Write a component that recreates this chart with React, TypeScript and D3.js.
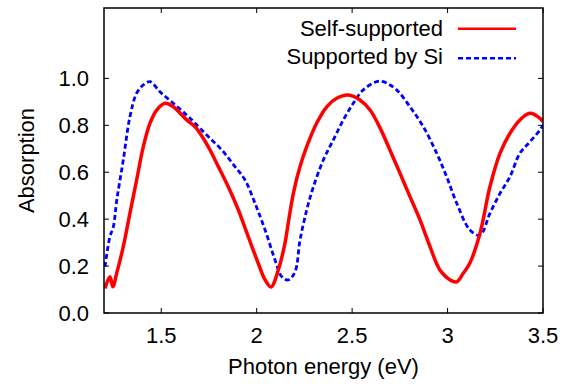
import React from "react";
import * as d3 from "d3";

const W = 571;
const H = 386;

const selfX = [1.205, 1.231, 1.246, 1.267, 1.301, 1.336, 1.371, 1.406, 1.441, 1.476, 1.52, 1.563, 1.633, 1.677, 1.703, 1.746, 1.799, 1.851, 1.904, 1.956, 2.008, 2.044, 2.075, 2.113, 2.148, 2.157, 2.192, 2.227, 2.262, 2.314, 2.367, 2.419, 2.48, 2.541, 2.594, 2.646, 2.698, 2.751, 2.803, 2.856, 2.908, 2.96, 3.013, 3.048, 3.082, 3.117, 3.17, 3.222, 3.275, 3.327, 3.379, 3.432, 3.484, 3.5];
const selfY = [0.105, 0.155, 0.112, 0.171, 0.283, 0.426, 0.567, 0.709, 0.809, 0.865, 0.894, 0.879, 0.823, 0.794, 0.766, 0.709, 0.624, 0.538, 0.439, 0.325, 0.212, 0.141, 0.111, 0.183, 0.297, 0.34, 0.51, 0.624, 0.709, 0.809, 0.879, 0.915, 0.929, 0.908, 0.865, 0.789, 0.695, 0.595, 0.496, 0.396, 0.283, 0.183, 0.141, 0.133, 0.169, 0.213, 0.34, 0.538, 0.681, 0.766, 0.823, 0.851, 0.83, 0.815];

const siX = [1.205, 1.231, 1.249, 1.267, 1.301, 1.336, 1.371, 1.406, 1.441, 1.493, 1.563, 1.633, 1.677, 1.746, 1.817, 1.886, 1.939, 1.991, 2.044, 2.096, 2.131, 2.166, 2.201, 2.227, 2.262, 2.297, 2.349, 2.401, 2.454, 2.506, 2.558, 2.629, 2.663, 2.733, 2.803, 2.873, 2.943, 2.995, 3.048, 3.117, 3.17, 3.222, 3.275, 3.327, 3.379, 3.432, 3.484, 3.5];
const siY = [0.197, 0.325, 0.368, 0.482, 0.652, 0.837, 0.937, 0.972, 0.986, 0.943, 0.894, 0.844, 0.809, 0.752, 0.695, 0.624, 0.567, 0.468, 0.354, 0.226, 0.155, 0.141, 0.176, 0.311, 0.439, 0.538, 0.652, 0.737, 0.823, 0.894, 0.951, 0.986, 0.986, 0.951, 0.879, 0.794, 0.681, 0.581, 0.468, 0.354, 0.332, 0.425, 0.51, 0.581, 0.681, 0.73, 0.78, 0.801];

const xTicks = [1.5, 2, 2.5, 3, 3.5];
const xTickLabels = ["1.5", "2", "2.5", "3", "3.5"];
const yTicks = [0, 0.2, 0.4, 0.6, 0.8, 1.0];
const yTickLabels = ["0.0", "0.2", "0.4", "0.6", "0.8", "1.0"];

const seriesNames = ["Self-supported", "Supported by Si"];

const M = { left: 104, right: 543, top: 8, bottom: 313 };
const FONT = "'Liberation Sans', Arial, Helvetica, sans-serif";

export default function App() {
  const x = d3.scaleLinear().domain([1.2, 3.5]).range([M.left, M.right]);
  const y = d3.scaleLinear().domain([0, 1.3]).range([M.bottom, M.top]);
  const line = d3
    .line<[number, number]>()
    .x((d) => x(d[0]))
    .y((d) => y(d[1]))
    .curve(d3.curveCatmullRom.alpha(0.5));
  const selfData: [number, number][] = selfX.map((v, i) => [v, selfY[i]]);
  const siData: [number, number][] = siX.map((v, i) => [v, siY[i]]);
  const tl = 5;
  const fs = 22;

  return (
    <svg width={W} height={H} style={{ position: "absolute", left: 0, top: 0 }} fontFamily={FONT}>
      <rect width={W} height={H} fill="#fff" />
      <defs>
        <clipPath id="plot">
          <rect x={M.left} y={M.top} width={M.right - M.left} height={M.bottom - M.top} />
        </clipPath>
      </defs>
      {xTicks.map((t) => (
        <g key={"xt" + t}>
          <line x1={x(t)} x2={x(t)} y1={M.bottom} y2={M.bottom - tl} stroke="#000" strokeWidth={1} />
          <line x1={x(t)} x2={x(t)} y1={M.top} y2={M.top + tl} stroke="#000" strokeWidth={1} />
        </g>
      ))}
      {yTicks.map((t) => (
        <g key={"yt" + t}>
          <line x1={M.left} x2={M.left + tl} y1={y(t)} y2={y(t)} stroke="#000" strokeWidth={1} />
          <line x1={M.right} x2={M.right - tl} y1={y(t)} y2={y(t)} stroke="#000" strokeWidth={1} />
        </g>
      ))}
      <g clipPath="url(#plot)">
        <path d={line(siData) || ""} fill="none" stroke="#0000ff" strokeWidth={2.8} strokeDasharray="5,3" />
        <path d={line(selfData) || ""} fill="none" stroke="#ff0000" strokeWidth={3.5} strokeLinejoin="round" />
      </g>
      <rect x={M.left} y={M.top} width={M.right - M.left} height={M.bottom - M.top} fill="none" stroke="#000" strokeWidth={1.5} />
      {xTicks.map((t, i) => (
        <text key={"xl" + t} x={x(t)} y={343} textAnchor="middle" fontSize={fs} fill="#000">
          {xTickLabels[i]}
        </text>
      ))}
      {yTicks.map((t, i) => (
        <text key={"yl" + t} x={89} y={y(t) + 7.5} textAnchor="end" fontSize={fs} fill="#000">
          {yTickLabels[i]}
        </text>
      ))}
      <text x={(M.left + M.right) / 2} y={374} textAnchor="middle" fontSize={fs} fill="#000">
        Photon energy (eV)
      </text>
      <text transform={`translate(33.5,${(M.top + M.bottom) / 2}) rotate(-90)`} textAnchor="middle" fontSize={fs} fill="#000">
        Absorption
      </text>
      <text x={443} y={36} textAnchor="end" fontSize={fs} fill="#000">{seriesNames[0]}</text>
      <line x1={458} x2={516} y1={28.7} y2={28.7} stroke="#ff0000" strokeWidth={2.5} />
      <text x={443} y={63.5} textAnchor="end" fontSize={fs} fill="#000">{seriesNames[1]}</text>
      <line x1={458} x2={516} y1={58.3} y2={58.3} stroke="#0000ff" strokeWidth={2.5} strokeDasharray="5,3" />
    </svg>
  );
}
